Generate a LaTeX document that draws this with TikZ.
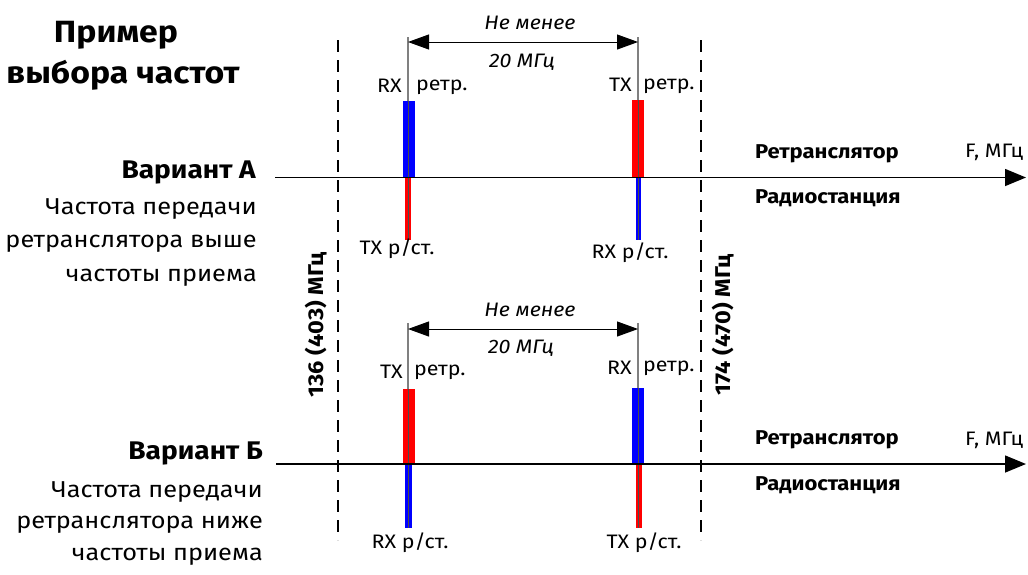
\documentclass[tikz,border=0pt]{standalone}
\usepackage{fontspec}
\setmainfont{Fira Sans}[FakeStretch=1.1]
\usetikzlibrary{arrows.meta}
\begin{document}
\begin{tikzpicture}[x=1pt,y=-1pt,
  axisline/.style={line width=1.5pt, -{Triangle[length=21pt,width=17pt]}},
  dimline/.style={line width=1pt, {Triangle[length=21pt,width=15pt]}-{Triangle[length=21pt,width=15pt]}},
  guide/.style={draw=gray, line width=1.3pt},
  core/.style={draw=gray!60!black, line width=1pt},
  bound/.style={line width=1.8pt, dash pattern=on 12pt off 8pt},
  tx/.style={fill=red},
  rx/.style={fill=blue},
  small/.style={inner sep=0pt, font=\fontsize{19.5}{19.5}\selectfont},
  smallb/.style={inner sep=0pt, font=\fontsize{20}{20}\selectfont\bfseries},
  smalli/.style={inner sep=0pt, font=\fontsize{19.5}{19.5}\selectfont\itshape},
  rot/.style={inner sep=0pt, font=\fontsize{21.4}{21.4}\selectfont\bfseries, rotate=90},
  title/.style={inner sep=0pt, font=\fontsize{30.7}{30.7}\selectfont\bfseries},
  variant/.style={inner sep=0pt, font=\fontsize{25.5}{25.5}\selectfont\bfseries, anchor=east},
  desc/.style={inner sep=0pt, font=\fontsize{23}{23}\selectfont, anchor=east}
]
\useasboundingbox (0,0) rectangle (1028,574);
\fill[white] (0,0) rectangle (1028,574);

% title
\node[title] (t1) at (116,35) {Пример};
\node[title] (t2) at (123,75) {выбора частот};

% boundaries
\coordinate (b1t) at (338,40); \coordinate (b1b) at (338,540);
\coordinate (b2t) at (701,40); \coordinate (b2b) at (701,540);
\draw[bound] (b1t) -- (b1b);
\draw[bound] (b2t) -- (b2b);
\node[rot] (f1) at (316,325) {136 (403) МГц};
\node[rot] (f2) at (723,325) {174 (470) МГц};

% ===== Variant A =====
\node[variant] (va) at (256,172) {Вариант А};
\node[desc] (da1) at (257,209) {Частота передачи};
\node[desc] (da2) at (257,244) {ретранслятора выше};
\node[desc] (da3) at (257,278) {частоты приема};

\coordinate (axa0) at (275,177.5);
\coordinate (axa1) at (1026,177.5);
\fill[rx] (403,101) rectangle (415,177);
\fill[tx] (405,178) rectangle (411,240);
\fill[tx] (632,100) rectangle (644,177);
\fill[rx] (636,178) rectangle (641,240);
\coordinate (ga1t) at (408,37); \coordinate (ga1m) at (408,101); \coordinate (ga1b) at (408,240);
\coordinate (ga2t) at (638,37); \coordinate (ga2m) at (638,100); \coordinate (ga2b) at (638,240);
\draw[guide] (ga1t) -- (ga1m);
\draw[guide] (ga2t) -- (ga2m);
\draw[core] (ga1m) -- (ga1b);
\draw[core] (ga2m) -- (ga2b);
\draw[axisline] (axa0) -- (axa1);
\coordinate (da) at (408,42); \coordinate (db) at (638,42);
\draw[dimline] (da) -- (db);
\node[smalli] (na1) at (530,23) {Не менее};
\node[smalli] (na2) at (522,62) {20 МГц};
\node[small, anchor=east] (la1) at (402,86) {RX};
\node[small, anchor=west] (la2) at (416,87) {ретр.};
\node[small, anchor=east] (la3) at (632,85) {TX};
\node[small, anchor=west] (la4) at (643,86) {ретр.};
\node[small] (la5) at (397,249) {TX р/ст.};
\node[small] (la6) at (630,253) {RX р/ст.};
\node[smallb, anchor=west] (ra) at (755,154) {Ретранслятор};
\node[smallb, anchor=west] (sa) at (755,198) {Радиостанция};
\node[small, anchor=west] (fa) at (965,152) {F, МГц};

% ===== Variant B =====
\node[variant] (vb) at (263,453) {Вариант Б};
\node[desc] (db1) at (263,492) {Частота передачи};
\node[desc] (db2) at (263,525) {ретранслятора ниже};
\node[desc] (db3) at (263,557) {частоты приема};

\coordinate (axb0) at (276,464);
\coordinate (axb1) at (1026,464);
\fill[tx] (403,389) rectangle (415,464);
\fill[rx] (405,465) rectangle (412,528);
\fill[rx] (632,388) rectangle (644,464);
\fill[tx] (636,465) rectangle (642,528);
\coordinate (gb1t) at (408,323); \coordinate (gb1m) at (408,389); \coordinate (gb1b) at (408,528);
\coordinate (gb2t) at (638,323); \coordinate (gb2m) at (638,388); \coordinate (gb2b) at (638,528);
\draw[guide] (gb1t) -- (gb1m);
\draw[guide] (gb2t) -- (gb2m);
\draw[core] (gb1m) -- (gb1b);
\draw[core] (gb2m) -- (gb2b);
\draw[axisline] (axb0) -- (axb1);
\coordinate (dc) at (408,329); \coordinate (dd) at (638,329);
\draw[dimline] (dc) -- (dd);
\node[smalli] (nb1) at (530,310) {Не менее};
\node[smalli] (nb2) at (521,348) {20 МГц};
\node[small, anchor=east] (lb1) at (403,372) {TX};
\node[small, anchor=west] (lb2) at (414,372) {ретр.};
\node[small, anchor=east] (lb3) at (632,368) {RX};
\node[small, anchor=west] (lb4) at (643,368) {ретр.};
\node[small] (lb5) at (410,543) {RX р/ст.};
\node[small] (lb6) at (644,543) {TX р/ст.};
\node[smallb, anchor=west] (rb) at (755,440) {Ретранслятор};
\node[smallb, anchor=west] (sb) at (755,485) {Радиостанция};
\node[small, anchor=west] (fb) at (965,440) {F, МГц};
\end{tikzpicture}
\end{document}
